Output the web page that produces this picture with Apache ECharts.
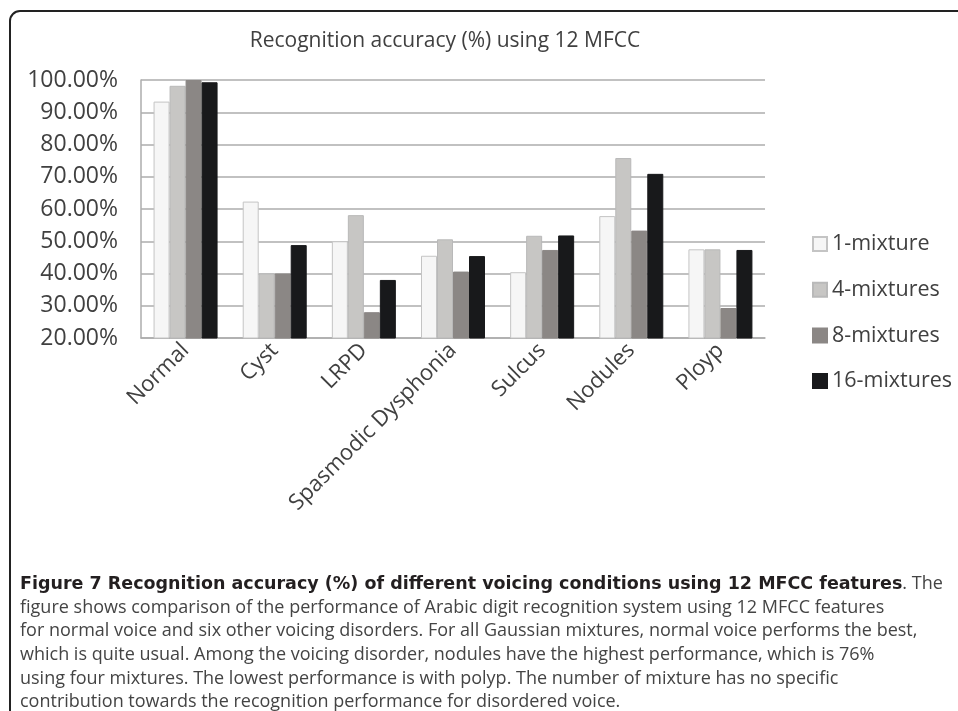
<!DOCTYPE html>
<html>
<head>
<meta charset="utf-8">
<script src="https://cdn.jsdelivr.net/npm/echarts@6/dist/echarts.min.js"></script>
<style>
html,body{margin:0;padding:0;background:#fff;}
#chart{width:958px;height:711px;}
</style>
</head>
<body>
<div id="chart"></div>
<script>
var categories = ['Normal', 'Cyst', 'LRPD', 'Spasmodic Dysphonia', 'Sulcus', 'Nodules', 'Ployp'];
var seriesNames = ['1-mixture', '4-mixtures', '8-mixtures', '16-mixtures'];
var mix1 = [93.3, 62.3, 50.0, 45.5, 40.4, 57.8, 47.5];
var mix4 = [98.2, 40.0, 58.1, 50.6, 51.7, 75.8, 47.5];
var mix8 = [100.0, 40.0, 28.0, 40.6, 47.3, 53.3, 29.3];
var mix16 = [99.3, 48.8, 38.0, 45.4, 51.8, 70.9, 47.3];
var yTicks = [20, 30, 40, 50, 60, 70, 80, 90, 100];
var chartTitle = 'Recognition accuracy (%) using 12 MFCC';
var captionBold = 'Figure 7 Recognition accuracy (%) of different voicing conditions using 12 MFCC features';
var captionLines = [
  '. The',
  'figure shows comparison of the performance of Arabic digit recognition system using 12 MFCC features',
  'for normal voice and six other voicing disorders. For all Gaussian mixtures, normal voice performs the best,',
  'which is quite usual. Among the voicing disorder, nodules have the highest performance, which is 76%',
  'using four mixtures. The lowest performance is with polyp. The number of mixture has no specific',
  'contribution towards the recognition performance for disordered voice.'
];

var fills = ['#f6f6f6', '#c7c6c4', '#8b8785', '#18191b'];
var borders = ['#c4c4c4', '#b9b9b9', '#8b8785', '#18191b'];
var values = [mix1, mix4, mix8, mix16];
var FONT = 'Open Sans';

var chart = echarts.init(document.getElementById('chart'), null, {renderer: 'canvas'});

var series = seriesNames.map(function (n, i) {
  return {
    name: n,
    type: 'bar',
    data: values[i],
    barWidth: 16,
    barGap: '0%',
    itemStyle: {color: fills[i], borderColor: borders[i], borderWidth: 1},
    emphasis: {disabled: true}
  };
});

var graphics = [
  {type: 'rect', shape: {x: 10, y: 11, width: 1000, height: 760, r: 10},
   style: {fill: 'none', stroke: '#222', lineWidth: 2}, silent: true},
  {type: 'text', x: 445, y: 41, style: {text: chartTitle, fill: '#404040',
   font: '21px "' + FONT + '"', textAlign: 'center', textVerticalAlign: 'middle'}}
];
var lineY0 = 584, lineStep = 23.6;
graphics.push({
  type: 'text', x: 20, y: lineY0,
  style: {
    text: '{b|' + captionBold + '}{n|' + captionLines[0] + '}',
    textVerticalAlign: 'middle',
    rich: {
      b: {font: 'bold 17.5px "DejaVu Sans"', fill: '#231f20'},
      n: {font: '18px "' + FONT + '"', fill: '#444'}
    }
  }
});
for (var k = 1; k < captionLines.length; k++) {
  graphics.push({type: 'text', x: 20, y: lineY0 + lineStep * k,
    style: {text: captionLines[k], font: '18px "' + FONT + '"', fill: '#444', textVerticalAlign: 'middle'}});
}

chart.setOption({
  animation: false,
  backgroundColor: '#fff',
  textStyle: {fontFamily: FONT},
  grid: {left: 141, right: 193, top: 80, bottom: 373, containLabel: false},
  legend: {
    orient: 'vertical', left: 807, top: 227,
    itemWidth: 14, itemHeight: 14, itemGap: 21.7,
    icon: 'rect',
    textStyle: {fontSize: 21.5, color: '#404040', fontFamily: FONT, lineHeight: 24},
    data: seriesNames
  },
  xAxis: {
    type: 'category', data: categories,
    axisLine: {lineStyle: {color: '#acacac', width: 1.5}},
    axisTick: {show: false},
    axisLabel: {rotate: 45, fontSize: 22, color: '#404040', margin: 9, interval: 0, fontFamily: FONT}
  },
  yAxis: {
    type: 'value', min: 20, max: 100, interval: 10,
    axisLine: {show: true, lineStyle: {color: '#acacac', width: 1.5}},
    axisTick: {show: false},
    splitLine: {lineStyle: {color: '#acacac', width: 1.5}},
    axisLabel: {fontSize: 23, color: '#404040', margin: 23, fontFamily: FONT,
      formatter: function (v) { return yTicks.indexOf(v) >= 0 ? v.toFixed(2) + '%' : ''; }}
  },
  series: series,
  graphic: graphics
});
</script>
</body>
</html>
